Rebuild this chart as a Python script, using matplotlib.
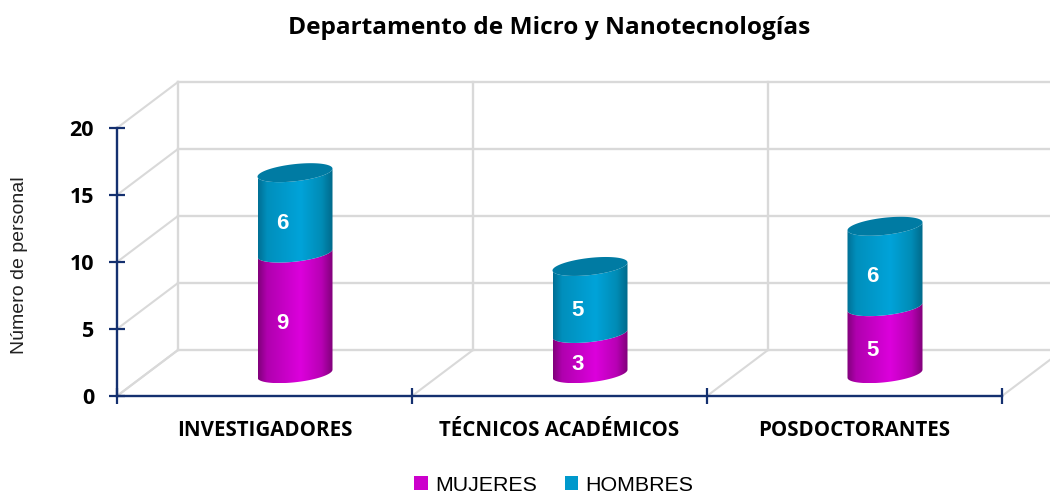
import numpy as np
import matplotlib
matplotlib.use('Agg')
import matplotlib.pyplot as plt
from matplotlib.colors import LinearSegmentedColormap
from matplotlib.patches import Patch, Polygon

categories = ['INVESTIGADORES', 'TÉCNICOS ACADÉMICOS', 'POSDOCTORANTES']
mujeres = [9, 3, 5]
hombres = [6, 5, 6]
yticks = [0, 5, 10, 15, 20]

W, H = 1050, 494
NAVY = '#14306f'
GRID = '#d9d9d9'
PINK = '#cc00cc'
BLUE = '#0099cc'
TOP = '#007ba3'

# 3d look: how far the back wall sits from the front plane, in data units
DX = 61 / 295
DY = 46 / 13.4
A = 37.5 / 295      # half width of a cylinder
B = 8.6 / 13.4      # half height of the ellipse
S = 4 / 13.4        # tilt of the ellipse

pink_cmap = LinearSegmentedColormap.from_list('pink', [(0, '#80007a'), (0.12, '#b000ae'), (0.57, '#dc00dc'), (0.85, '#b800b4'), (1, '#800079')])
blue_cmap = LinearSegmentedColormap.from_list('blue', [(0, '#006f94'), (0.12, '#008fbc'), (0.57, '#00a3d9'), (0.85, '#008cb6'), (1, '#00698a')])

fig = plt.figure(figsize=(W / 100, H / 100), dpi=100)
ax = fig.add_axes([117 / W, (H - 396) / H, 885 / W, 268 / H])
ax.patch.set_visible(False)


def segment(cx, y0, y1, cmap):
    t = np.linspace(np.pi, 2 * np.pi, 60)
    xs = cx + A * np.cos(t)
    low = y0 + B * np.sin(t) + S * np.cos(t)
    high = y1 + B * np.sin(t) + S * np.cos(t)
    pts = np.vstack([np.column_stack([xs, low]), np.column_stack([xs[::-1], high[::-1]])])
    grad = np.linspace(0, 1, 256).reshape(1, -1)
    im = ax.imshow(grad, cmap=cmap, extent=(cx - A, cx + A, pts[:, 1].min(), pts[:, 1].max()),
                   aspect='auto', interpolation='bilinear', zorder=3)
    clip = Polygon(pts, closed=True, transform=ax.transData)
    im.set_clip_path(clip)


def top_cap(cx, y):
    t = np.linspace(0, 2 * np.pi, 120)
    pts = np.column_stack([cx + A * np.cos(t), y + B * np.sin(t) + S * np.cos(t)])
    ax.add_patch(Polygon(pts, closed=True, facecolor=TOP, edgecolor='none', zorder=4))


# back wall, side wall and floor
for v in yticks:
    ax.plot([0, DX], [v, v + DY], color=GRID, lw=1.5, clip_on=False, zorder=1)
    ax.plot([DX, 933 / 295], [v + DY, v + DY], color=GRID, lw=1.7, clip_on=False, zorder=1)
for i in range(3):
    ax.plot([i + DX, i + DX], [DY, 20 + DY], color=GRID, lw=1.7, clip_on=False, zorder=1)
for i in range(4):
    ax.plot([i, i + DX], [0, DY], color=GRID, lw=1.5, clip_on=False, zorder=1)

# cylinders
for i in range(len(categories)):
    cx = i + 0.5 + DX / 2
    base = DY / 2 - 0.05
    segment(cx, base, base + mujeres[i], pink_cmap)
    segment(cx, base + mujeres[i], base + mujeres[i] + hombres[i], blue_cmap)
    top_cap(cx, base + mujeres[i] + hombres[i])
    lx = cx - 12.5 / 295
    ax.text(lx, base + mujeres[i] / 2 - 0.78, str(mujeres[i]), color='white', fontsize=16,
            fontweight='bold', family='Liberation Sans', ha='center', va='center', zorder=5)
    ax.text(lx, base + mujeres[i] + hombres[i] / 2 - 0.78, str(hombres[i]), color='white', fontsize=16,
            fontweight='bold', family='Liberation Sans', ha='center', va='center', zorder=5)

ax.set_xlim(0, 3)
ax.set_ylim(0, 20)

for side in ['top', 'right']:
    ax.spines[side].set_visible(False)
for side in ['left', 'bottom']:
    ax.spines[side].set_color(NAVY)
    ax.spines[side].set_linewidth(1.7)
    ax.spines[side].set_zorder(6)

ax.set_yticks(yticks)
ax.set_xticks(range(4))
ax.set_xticklabels([])
ax.tick_params(axis='both', which='major', direction='inout', length=11, width=1.6, color=NAVY)
ax.tick_params(axis='y', pad=11, labelsize=15.5)
for lab in ax.get_yticklabels():
    lab.set_fontweight('bold')
    lab.set_family('Open Sans')
    lab.set_color('black')

ax.set_xticks([0.5, 1.5, 2.5], minor=True)
ax.set_xticklabels(categories, minor=True, fontsize=14.8, fontweight='bold', family='Open Sans')
ax.tick_params(axis='x', which='minor', length=0, pad=17.5)

fig.text(549.5 / W, 1 - 28 / H, 'Departamento de Micro y Nanotecnologías', fontsize=17.6,
         fontweight='bold', family='Open Sans', ha='center', va='center')
fig.text(20 / W, 1 - 265 / H, 'Número de personal', fontsize=14, family='Liberation Sans',
         rotation=90, ha='center', va='center', color='#222222')

handles = [Patch(facecolor=PINK, label='MUJERES'), Patch(facecolor=BLUE, label='HOMBRES')]
fig.legend(handles=handles, loc='center', bbox_to_anchor=(554 / W, 1 - 485 / H), ncol=2, frameon=False,
           prop={'family': 'Liberation Sans', 'size': 15.4}, handlelength=0.62, handleheight=0.62,
           handletextpad=0.35, columnspacing=1.3, borderpad=0, borderaxespad=0)

fig.savefig('out.png', dpi=100)
